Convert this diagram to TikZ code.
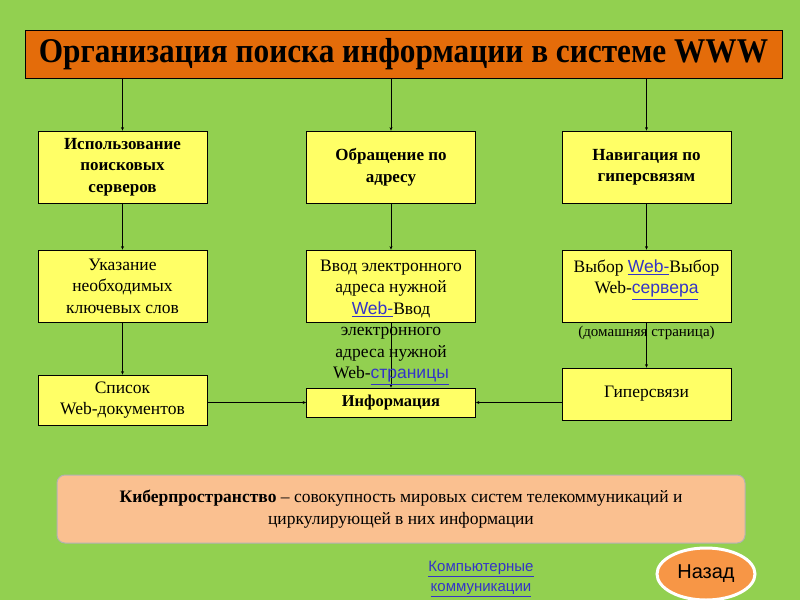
\documentclass[tikz,border=0pt]{standalone}
\usepackage{fontspec}
\setmainfont{Liberation Serif}
\setsansfont{Liberation Sans}
\usetikzlibrary{arrows.meta,positioning,shapes.geometric}
\definecolor{slidegreen}{HTML}{92D050}
\definecolor{titleorange}{HTML}{E46C0A}
\definecolor{boxyellow}{HTML}{FFFF66}
\definecolor{softpeach}{HTML}{FAC090}
\definecolor{btnorange}{HTML}{F79646}
\definecolor{linkblue}{HTML}{3434C8}
\newcommand{\weblink}[1]{\textcolor{linkblue}{\sffamily\underline{#1}}}

\begin{document}
\begin{tikzpicture}[
        x=1pt, y=-1pt,
        box/.style={draw=black, fill=boxyellow, line width=0.8pt, minimum width=169pt, minimum height=72pt, align=center, font=\fontsize{17.5}{21.5}\selectfont},
        head/.style={box, font=\bfseries\fontsize{17}{21.5}\selectfont},
        arrow/.style={-{Stealth[length=3.5pt,width=3pt]}, line width=0.6pt}
    ]
    \fill[slidegreen] (0,0) rectangle (800,600);
    \useasboundingbox (0,0) rectangle (800,600);
    \node[draw=black, fill=titleorange, line width=0.8pt, minimum width=757pt, minimum height=48pt, font=\bfseries\fontsize{31}{34}\selectfont] (title) at (403.5,54) {\scalebox{1.01}[1.12]{Организация поиска информации в системе WWW}};
    % first row
    \node[head] (srv) at (122.5,167) {Использование\\поисковых\\серверов};
    \node[head] (addr) at (391,167) {Обращение по\\адресу};
    \node[head] (nav) at (646.5,167) {Навигация по\\гиперсвязям};
    % second row
    \node[box] (keys) at (122.5,286) {Указание\\необходимых\\ключевых слов};
    \node[box] (url) at (391,286) {};
    \node[box] (pick) at (646.5,286) {};
    % third row
    \node[box, minimum height=50pt] (list) at (122.5,400) {Список\\Web-документов};
    \node[box, minimum height=29pt, font=\bfseries\fontsize{16.5}{18}\selectfont] (info) at (391,402.5) {Информация};
    \node[box, minimum height=52pt] (links) at (646.5,394) {Гиперсвязи};
    \draw[arrow] (title.south -| srv.north) -- (srv.north);
    \draw[arrow] (title.south -| addr.north) -- (addr.north);
    \draw[arrow] (title.south -| nav.north) -- (nav.north);
    \draw[arrow] (srv) -- (keys);
    \draw[arrow] (addr) -- (url);
    \draw[arrow] (nav) -- (pick);
    \draw[arrow] (keys) -- (list);
    \draw[arrow] (url) -- (info);
    \draw[arrow] (pick) -- (links);
    \draw[arrow] (list.east |- info.west) -- (info.west);
    \draw[arrow] (links.west |- info.east) -- (info.east);
    % texts running out of their boxes
    \node[anchor=north, align=center, inner sep=3pt, yshift=-7pt, font=\fontsize{17.5}{21.5}\selectfont] (urltext) at (url.north) {Ввод электронного\\адреса нужной\\\weblink{Web-}Ввод\\электронного\\адреса нужной\\Web-\weblink{страницы}};
    \node[anchor=north, align=center, inner sep=3pt, yshift=-7pt, font=\fontsize{17.5}{21.5}\selectfont] (picktext) at (pick.north) {Выбор \weblink{Web-}Выбор\\Web-\weblink{сервера}\\[21.5pt]{\fontsize{15}{21.5}\selectfont(домашняя страница)}};
    % definition
    \node[draw=gray!60, line width=1pt, fill=softpeach, rounded corners=8pt, minimum width=688pt, minimum height=68pt, align=center, font=\fontsize{17.5}{22}\selectfont] (cyber) at (401,509) {\textbf{Киберпространство} – совокупность мировых систем телекоммуникаций и\\циркулирующей в них информации};
    \node[align=center, font=\sffamily\fontsize{15}{20}\selectfont, text=linkblue] (comm) at (481,579) {\underline{Компьютерные}\\\underline{коммуникации}};
    \node[ellipse, draw=white, line width=3pt, fill=btnorange, minimum width=98pt, minimum height=52pt, font=\sffamily\fontsize{20}{24}\selectfont] (back) at (706,574) {Назад};
\end{tikzpicture}
\end{document}
